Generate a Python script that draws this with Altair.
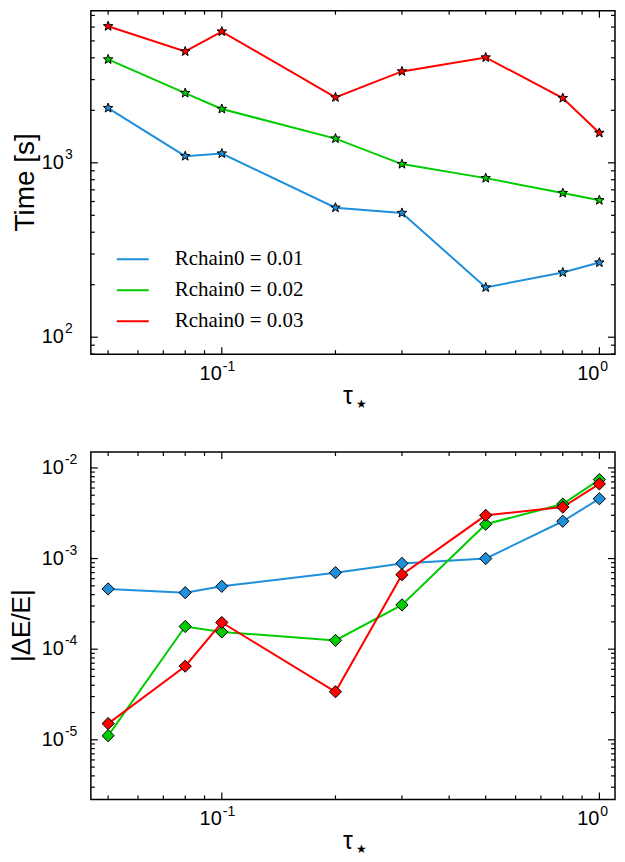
import math
import altair as alt
import pandas as pd

tau = [0.05, 0.08, 0.1, 0.2, 0.3, 0.5, 0.8, 1.0]
series = ["Rchain0 = 0.01", "Rchain0 = 0.02", "Rchain0 = 0.03"]
colors = ["#1f8fdc", "#00cc00", "#ff0000"]

time_001 = [2061, 1092, 1130, 553, 516, 193, 235, 268]
time_002 = [3917, 2512, 2036, 1377, 983, 817, 671, 610]
time_003 = [6067, 4348, 5656, 2373, 3342, 4018, 2350, 1484]

err_001 = [4.62e-4, 4.20e-4, 4.94e-4, 6.99e-4, 8.84e-4, 1.00e-3, 2.58e-3, 4.57e-3]
err_002 = [1.11e-5, 1.78e-4, 1.55e-4, 1.25e-4, 3.08e-4, 2.39e-3, 3.99e-3, 7.44e-3]
err_003 = [1.51e-5, 6.49e-5, 1.97e-4, 3.39e-5, 6.64e-4, 3.00e-3, 3.70e-3, 6.67e-3]

x_domain = [0.045, 1.1]
time_domain = [80, 7450]
err_domain = [2.2e-6, 0.015]

x_title = "τ"
x_title_sub = "★"
time_title = "Time [s]"
err_title = "|ΔE/E|"

W = 525
H_TOP = 344
H_BOT = 348
SANS = "Liberation Sans"
SERIF = "Liberation Serif"

rows = []
for s, tv, ev in zip(series, [time_001, time_002, time_003], [err_001, err_002, err_003]):
    for t, a, b in zip(tau, tv, ev):
        rows.append({"series": s, "tau": t, "time": a, "err": b})
df = pd.DataFrame(rows)

# five-pointed star symbol (unit box, for Vega custom shape)
_pts = []
for k in range(10):
    r = 1.0 if k % 2 == 0 else 0.42
    a = math.radians(-90 + 36 * k)
    _pts.append(f"{r * math.cos(a):.3f},{r * math.sin(a):.3f}")
STAR = "M" + " L".join(_pts) + " Z"


def decade_ticks(lo, hi):
    major, minor = [], []
    e0 = math.floor(math.log10(lo))
    e1 = math.ceil(math.log10(hi))
    for e in range(e0, e1 + 1):
        b = 10.0 ** e
        if lo <= b * 1.0000001 and b <= hi * 1.0000001:
            major.append(b)
        for m in range(2, 10):
            v = m * b
            if lo <= v * 1.0000001 and v <= hi * 1.0000001:
                minor.append(v)
    return major, minor


def label_df(vals):
    return pd.DataFrame({
        "v": vals,
        "base": ["10"] * len(vals),
        "exp": [str(int(round(math.log10(v)))) for v in vals],
    })


def panel(ycol, ydom, H, shape, size, ytitle, ytitle_size, ytitle_x, legend):
    xs = alt.Scale(type="log", domain=x_domain)
    ys = alt.Scale(type="log", domain=ydom)
    cs = alt.Scale(domain=series, range=colors)

    def X(f):
        return alt.X(f, scale=xs, axis=None)

    def Y(f):
        return alt.Y(f, scale=ys, axis=None)

    layers = []
    layers.append(
        alt.Chart(df).mark_line(strokeWidth=2).encode(
            x=X("tau:Q"), y=Y(f"{ycol}:Q"),
            color=alt.Color("series:N", scale=cs, legend=legend),
        )
    )
    layers.append(
        alt.Chart(df).mark_point(shape=shape, size=size, filled=True, stroke="black",
                                 strokeWidth=1, opacity=1).encode(
            x=X("tau:Q"), y=Y(f"{ycol}:Q"),
            fill=alt.Fill("series:N", scale=cs, legend=None),
        )
    )
    xmaj, xmin = decade_ticks(*x_domain)
    ymaj, ymin = decade_ticks(*ydom)
    for vals, L in ((xmaj, 7), (xmin, 4)):
        d = pd.DataFrame({"v": vals})
        layers.append(alt.Chart(d).mark_rule(color="black", strokeWidth=1.2).encode(
            x=X("v:Q"), y=alt.value(H), y2=alt.value(H - L)))
        layers.append(alt.Chart(d).mark_rule(color="black", strokeWidth=1.2).encode(
            x=X("v:Q"), y=alt.value(0), y2=alt.value(L)))
    for vals, L in ((ymaj, 7), (ymin, 4)):
        d = pd.DataFrame({"v": vals})
        layers.append(alt.Chart(d).mark_rule(color="black", strokeWidth=1.2).encode(
            y=Y("v:Q"), x=alt.value(0), x2=alt.value(L)))
        layers.append(alt.Chart(d).mark_rule(color="black", strokeWidth=1.2).encode(
            y=Y("v:Q"), x=alt.value(W), x2=alt.value(W - L)))
    xl = label_df(xmaj)
    layers.append(alt.Chart(xl).mark_text(font=SANS, fontSize=20, align="right",
                                          baseline="alphabetic", color="black").encode(
        x=X("v:Q"), y=alt.value(H + 26), text="base:N"))
    layers.append(alt.Chart(xl).mark_text(font=SANS, fontSize=14, align="left",
                                          baseline="alphabetic", dx=1, color="black").encode(
        x=X("v:Q"), y=alt.value(H + 17), text="exp:N"))
    yl = label_df(ymaj)
    layers.append(alt.Chart(yl).mark_text(font=SANS, fontSize=20, align="right",
                                          baseline="middle", color="black").encode(
        y=Y("v:Q"), x=alt.value(-27), text="base:N"))
    layers.append(alt.Chart(yl).mark_text(font=SANS, fontSize=14, align="left",
                                          baseline="middle", dy=-8, dx=1, color="black").encode(
        y=Y("v:Q"), x=alt.value(-27), text="exp:N"))
    layers.append(alt.Chart(pd.DataFrame({"t": [ytitle]})).mark_text(
        font=SANS, fontSize=ytitle_size, angle=270, align="center",
        baseline="alphabetic", color="black").encode(
        x=alt.value(ytitle_x), y=alt.value(H / 2), text="t:N"))
    layers.append(alt.Chart(pd.DataFrame({"t": [x_title]})).mark_text(
        font=SANS, fontSize=25, align="right", baseline="middle", color="black").encode(
        x=alt.value(W / 2), y=alt.value(H + 42), text="t:N"))
    layers.append(alt.Chart(pd.DataFrame({"t": [x_title_sub]})).mark_text(
        font="DejaVu Sans", fontSize=12, align="left", baseline="middle", color="black").encode(
        x=alt.value(W / 2 + 3), y=alt.value(H + 50), text="t:N"))
    return alt.layer(*layers).properties(width=W, height=H)


legend = alt.Legend(
    orient="none", legendX=25, legendY=232, title=None, padding=0,
    symbolType="stroke", symbolSize=1024, symbolStrokeWidth=2,
    labelFont=SERIF, labelFontSize=21, labelColor="black", labelOffset=25,
    rowPadding=4, labelLimit=400,
)

top = panel("time", time_domain, H_TOP, STAR, 100, time_title, 28, -57, legend)
bot = panel("err", err_domain, H_BOT, "diamond", 150, err_title, 26, -61, None)

chart = alt.vconcat(top, bot, spacing=98, bounds="flush").resolve_scale(
    color="independent", fill="independent"
).properties(
    background="white",
    padding={"left": 0, "top": 0, "right": 0, "bottom": 0},
).configure_view(stroke="black", strokeWidth=1.5)

chart.save("out.html", embed_options={"renderer": "svg", "actions": False})
